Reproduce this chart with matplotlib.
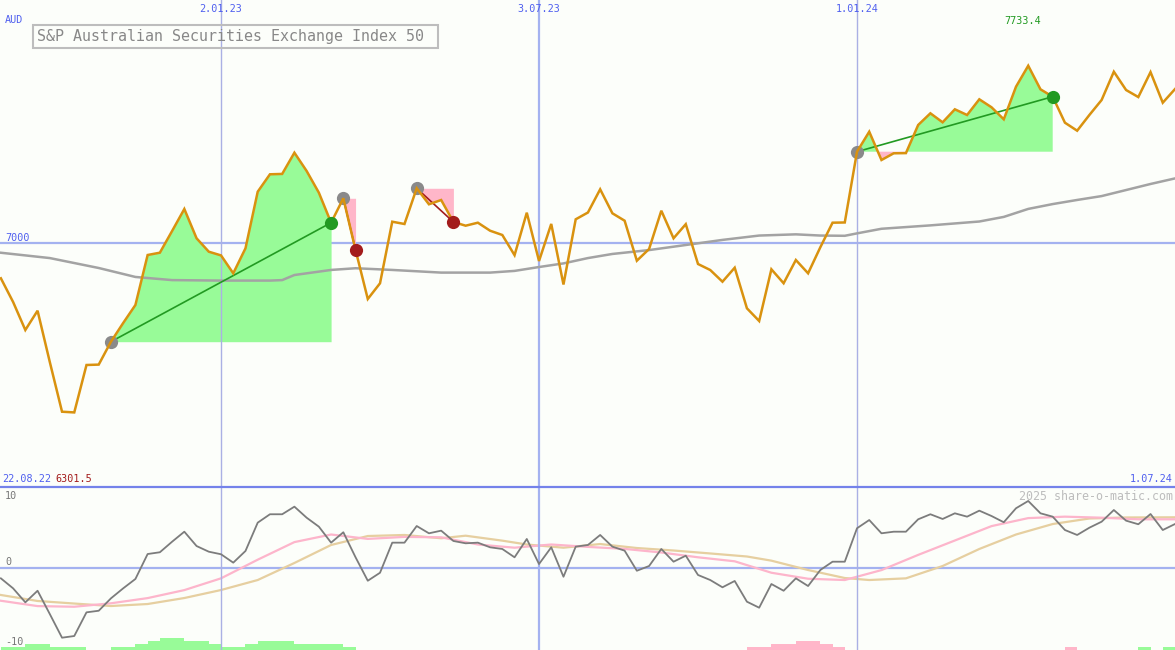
import numpy as np
import pandas as pd
import matplotlib
matplotlib.use("Agg")
import matplotlib.pyplot as plt
import matplotlib.dates as mdates
from matplotlib.lines import Line2D
from matplotlib.patches import Rectangle

# ---------------- data ----------------
start_date = "2022-08-29"
price = [6855.5, 6757.6, 6641.9, 6721.6, 6509.8, 6304.5, 6301.5, 6497.4, 6499.0, 6593.6,
         6670.8, 6745.2, 6951.7, 6961.2, 7050.8, 7141.7, 7020.7, 6965.3, 6950.0, 6876.1,
         6979.3, 7213.1, 7285.0, 7286.5, 7374.2, 7298.6, 7209.0, 7085.1, 7185.9, 6972.3,
         6770.0, 6834.8, 7089.2, 7079.7, 7227.2, 7161.1, 7178.8, 7088.0, 7072.7, 7085.1,
         7052.0, 7034.3, 6951.0, 7126.4, 6926.9, 7080.0, 6829.8, 7099.1, 7127.2, 7223.0,
         7123.9, 7093.3, 6928.1, 6976.5, 7134.6, 7020.7, 7079.0, 6914.5, 6889.7, 6841.4,
         6899.2, 6731.5, 6679.1, 6892.6, 6835.0, 6931.0, 6876.1, 6983.5, 7085.1, 7086.0,
         7378.3, 7460.9, 7344.0, 7371.7, 7372.5, 7488.6, 7536.9, 7499.7, 7553.4, 7529.9,
         7594.7, 7561.7, 7512.1, 7646.8, 7733.4, 7636.0, 7605.5, 7498.1, 7465.0, 7530.0,
         7591.8, 7708.7, 7633.1, 7604.0, 7707.0, 7580.7, 7637.0]

ma_idx = [0, 4, 8, 11, 14, 18, 22, 23, 24, 27, 29, 32, 36, 40, 42, 44, 46, 48, 50, 53,
          56, 59, 62, 65, 67, 69, 70, 72, 76, 80, 82, 84, 86, 88, 90, 92, 94, 96]
ma_val = [6961, 6939, 6898, 6861, 6848, 6846, 6846, 6848, 6869, 6890, 6897, 6890, 6879,
          6879, 6886, 6902, 6917, 6939, 6956, 6972, 6993, 7014, 7032, 7037, 7032, 7031,
          7041, 7060, 7074, 7090, 7109, 7142, 7162, 7179, 7195, 7220, 7245, 7268]

osc = [-1.33, -2.58, -4.33, -2.88, -5.79, -8.75, -8.54, -5.58, -5.38, -3.83,
       -2.58, -1.41, 1.71, 1.93, 3.25, 4.5, 2.71, 2.0, 1.68, 0.63,
       2.09, 5.63, 6.68, 6.68, 7.63, 6.25, 5.13, 3.13, 4.43, 1.3,
       -1.63, -0.63, 3.13, 3.13, 5.21, 4.3, 4.63, 3.34, 3.05, 3.13,
       2.55, 2.34, 1.3, 3.59, 0.46, 2.55, -1.13, 2.63, 2.84, 4.09,
       2.63, 2.13, -0.38, 0.21, 2.34, 0.75, 1.5, -0.91, -1.54, -2.45,
       -1.66, -4.25, -5.0, -2.04, -2.88, -1.33, -2.29, -0.29, 0.75, 0.75,
       4.93, 5.96, 4.3, 4.5, 4.5, 6.05, 6.68, 6.09, 6.8, 6.38,
       7.13, 6.46, 5.68, 7.43, 8.34, 6.8, 6.38, 4.71, 4.09, 5.0,
       5.75, 7.21, 5.88, 5.43, 6.71, 4.71, 5.46]

pink_idx = [0, 3, 6, 9, 12, 15, 18, 21, 24, 27, 30, 33, 36, 39, 42, 45, 48, 51, 54, 57,
            60, 63, 66, 69, 72, 75, 78, 81, 84, 87, 90, 93, 96]
pink_val = [-4.13, -4.8, -4.88, -4.45, -3.8, -2.8, -1.33, 1.0, 3.2, 4.15, 3.6, 3.85, 3.8,
            2.9, 2.5, 2.9, 2.6, 2.35, 1.9, 1.3, 0.8, -0.63, -1.38, -1.54, -0.3, 1.6, 3.4,
            5.2, 6.2, 6.38, 6.25, 6.05, 6.05]

tan_idx = [0, 3, 6, 9, 12, 15, 18, 21, 24, 27, 30, 33, 36, 38, 41, 43, 46, 49, 52, 55,
           58, 61, 63, 66, 69, 71, 74, 77, 80, 83, 86, 89, 92, 96]
tan_val = [-3.41, -4.16, -4.48, -4.79, -4.54, -3.79, -2.79, -1.54, 0.59, 2.84, 3.96, 4.09,
           3.68, 4.0, 3.38, 2.9, 2.5, 2.96, 2.46, 2.15, 1.78, 1.4, 0.88, -0.29, -1.29,
           -1.54, -1.33, 0.21, 2.34, 4.15, 5.46, 6.15, 6.28, 6.3]

bars = [1, 1, 2, 2, 1, 1, 1, 0, 0, 1, 1, 2, 3, 4, 4, 3, 3, 2, 1, 1,
        2, 3, 3, 3, 2, 2, 2, 2, 1, 0, 0, 0, 0, 0, 0, 0, 0, 0, 0, 0,
        0, 0, 0, 0, 0, 0, 0, 0, 0, 0, 0, 0, 0, 0, 0, 0, 0, 0, 0, 0,
        0, -1, -1, -2, -2, -3, -3, -2, -1, 0, 0, 0, 0, 0, 0, 0, 0, 0, 0, 0,
        0, 0, 0, 0, 0, 0, 0, -1, 0, 0, 0, 0, 0, 1, 0, 1, 0]

# trades: (entry index, exit index)
trades = [(9, 27), (28, 29), (34, 37), (70, 86)]

grid_dates = ["2023-01-02", "2023-07-03", "2024-01-01"]
grid_major = [False, True, False]
price_level = 7000
osc_ticks = [10, 0, -10]
title = "S&P Australian Securities Exchange Index 50"
currency = "AUD"
first_label = "22.08.22"
last_label = "1.07.24"
watermark = "2025 share-o-matic.com"

# ---------------- styling ----------------
W, H = 1175, 650
BG = "#FCFEFA"
BLUE_T = "#4F5FEF"
GRID = "#A4B2F0"
GRID_THIN = "#AAB0E4"
SEP = "#7482EA"
ORANGE = "#D9920F"
MA_C = "#A3A3A3"
GFILL = "#98FB98"
PFILL = "#FFB6C9"
GREEN = "#229A22"
RED = "#A31C1C"
GREYM = "#8A8A8A"
FONT = "DejaVu Sans Mono"

plt.rcParams["font.family"] = FONT

dates = pd.date_range(start_date, periods=len(price), freq="7D")
x = mdates.date2num(dates)
p = np.array(price)
day = 1.0

fig = plt.figure(figsize=(W / 100, H / 100), dpi=100, facecolor=BG)
sep_y = 487
ax = fig.add_axes([0, 1 - sep_y / H, 1, sep_y / H])
ax2 = fig.add_axes([0, 0, 1, 1 - sep_y / H])
for a in (ax, ax2):
    a.set_facecolor(BG)
    for s in a.spines.values():
        s.set_visible(False)
    a.set_xticks([])
    a.set_yticks([])
    a.set_xlim(x[0] - 0.5 * day, x[-1])

# price axis scale: 4.13 per pixel, 7000 at pixel 243.3
kpx = 4.13
ax.set_ylim(7000 - (sep_y - 243.3) * kpx, 7000 + 243.3 * kpx)
ax2.set_ylim(-(650 - 567.7) / 8, (567.7 - sep_y) / 8)

def P(px, py):
    return px / W, 1 - py / H

# horizontal price gridline
ax.axhline(price_level, color=GRID, lw=1.6, zorder=1)

# trade fills
for a_i, b_i in trades:
    xs = x[a_i:b_i + 1]
    ys = p[a_i:b_i + 1]
    base = p[a_i]
    ax.fill_between(xs, ys, base, where=ys >= base, interpolate=True,
                    color=GFILL, lw=0, zorder=2)
    ax.fill_between(xs, ys, base, where=ys <= base, interpolate=True,
                    color=PFILL, lw=0, zorder=2)

# vertical date gridlines
gx = mdates.date2num(pd.to_datetime(grid_dates))
for g, major in zip(gx, grid_major):
    for a in (ax, ax2):
        a.axvline(g, color=GRID if major else GRID_THIN, lw=1.6 if major else 1.0, zorder=3)

# moving average
ax.plot(x[ma_idx], ma_val, color=MA_C, lw=1.8, zorder=4)

# trade lines + entry markers (under price)
for a_i, b_i in trades:
    up = p[b_i] >= p[a_i]
    ax.plot([x[a_i], x[b_i]], [p[a_i], p[b_i]], color=GREEN if up else RED,
            lw=1.2, zorder=4.5)
    ax.plot(x[a_i], p[a_i], "o", ms=9.5, color=GREYM, mec="none", zorder=4.6)

# price line
ax.plot(x, p, color=ORANGE, lw=1.8, zorder=5, solid_joinstyle="miter")

# exit markers
for a_i, b_i in trades:
    up = p[b_i] >= p[a_i]
    ax.plot(x[b_i], p[b_i], "o", ms=9.5, color=GREEN if up else RED, mec="none", zorder=6)

# ---------- lower panel ----------
ax2.axhline(0, color=GRID, lw=1.6, zorder=1)
ylo = ax2.get_ylim()[0]
lvl = 0.38
bh = np.abs(np.array(bars)) * lvl
bcol = [GFILL if b > 0 else PFILL for b in bars]
ax2.bar(x, bh, width=7 * day, bottom=ylo, align="edge", color=bcol, lw=0, zorder=1.5)
ax2.plot(x[tan_idx], tan_val, color="#E6CFA0", lw=1.6, zorder=2)
ax2.plot(x[pink_idx], pink_val, color="#FDB5CB", lw=1.6, zorder=2.1)
ax2.plot(x, osc, color="#7C7C7C", lw=1.3, zorder=3)

# separator line
fig.add_artist(Line2D([0, 1], [1 - sep_y / H, 1 - sep_y / H], transform=fig.transFigure,
                      color=SEP, lw=1.6, zorder=10))

# ---------- texts ----------
fs = 7.3
for g, d in zip(gx, pd.to_datetime(grid_dates)):
    px = ax.transData.transform((g, 0))[0]
    fig.text(px / W, 1 - 9 / H, f"{d.day}.{d:%m.%y}", color=BLUE_T, fontsize=fs,
             ha="center", va="center")
fig.text(*P(5, 20), currency, color=BLUE_T, fontsize=fs, ha="left", va="center")
fig.text(*P(5, 238), f"{price_level}", color=BLUE_T, fontsize=fs, ha="left", va="center")

imax = int(np.argmax(p))
pxmax = ax.transData.transform((x[imax], 0))[0]
fig.text((pxmax - 6) / W, 1 - 21 / H, f"{p.max():.1f}", color=GREEN, fontsize=fs,
         ha="center", va="center")
fig.text(*P(2, 479), first_label, color=BLUE_T, fontsize=fs, ha="left", va="center")
fig.text(*P(55, 479), f"{p.min():.1f}", color=RED, fontsize=fs, ha="left", va="center")
fig.text(*P(1173, 479), last_label, color=BLUE_T, fontsize=fs, ha="right", va="center")

for t, yy in zip(osc_ticks, [496, 562, 642]):
    fig.text(*P(5, yy), f"{t}", color="#777777", fontsize=fs, ha="left", va="center")
fig.text(*P(1173, 496), watermark, color="#BDBDBD", fontsize=8.4, ha="right", va="center")

# title box
fig.add_artist(Rectangle(P(33, 48), (438 - 33) / W, (48 - 25) / H, transform=fig.transFigure,
                         fill=False, edgecolor="#BDBDBD", lw=1.5, zorder=10))
fig.text(*P(37, 36.5), title, color="#888888", fontsize=10.8, ha="left", va="center")

fig.savefig("out.png", dpi=100, facecolor=BG)
